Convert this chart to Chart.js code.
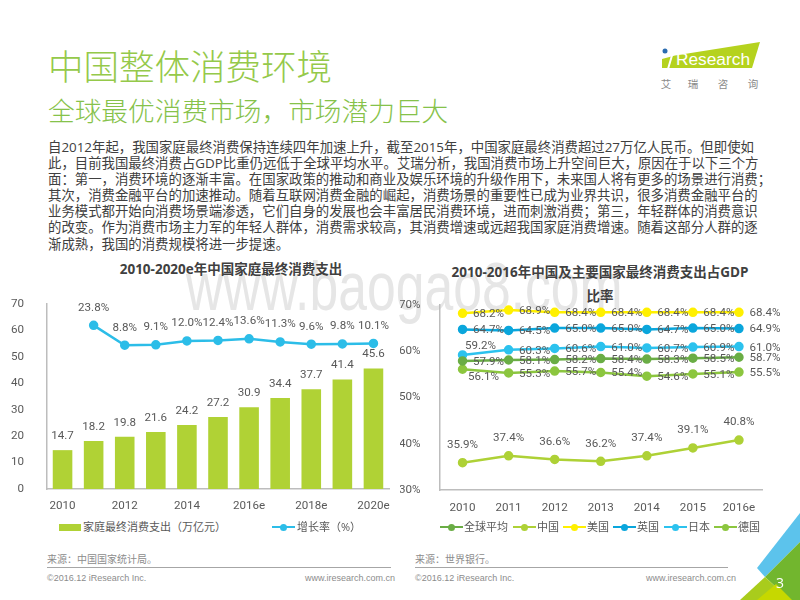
<!DOCTYPE html>
<html lang="zh-CN">
<head>
<meta charset="utf-8">
<title>中国整体消费环境</title>
<script src="https://cdn.jsdelivr.net/npm/chart.js@4"></script>
<style>
  html, body { margin: 0; padding: 0; background: #fff; }
  #page { position: relative; width: 800px; height: 600px; overflow: hidden; background: #fff;
          font-family: "Open Sans", "Noto Sans CJK SC", sans-serif; }
  #page > * { position: absolute; }
  #watermark { left: 186px; top: 247px; font: 68px "Liberation Sans", sans-serif; color: #e6e6e6; white-space: nowrap;
               transform-origin: left top; transform: scaleX(0.76); }
  #title { left: 48px; top: 41px; font-size: 35.5px; line-height: 50px; font-weight: 300; color: #95c94a; white-space: nowrap; }
  #subtitle { left: 48px; top: 92px; font-size: 26.7px; line-height: 38px; font-weight: 300; color: #86c24a; white-space: nowrap; }
  #body { left: 48px; top: 139px; font-size: 13.4px; line-height: 16.1px; color: #404040; white-space: pre; }
  canvas { position: absolute; }
  .chartTitle { font-size: 13.5px; font-weight: bold; color: #404040; white-space: nowrap; text-align: center;
                line-height: 24px; transform: translateX(-50%); }
  #leftWrap { left: 0; top: 282px; width: 400px; height: 237px; }
  #rightWrap { left: 400px; top: 287px; width: 400px; height: 233px; }
  .legend { position: absolute; font-size: 11px; color: #595959; white-space: nowrap; line-height: 14px; }
  .swatch { position: absolute; }
  .src { font-size: 10px; color: #8c8c8c; white-space: nowrap; }
  .rule { height: 1px; background: #a6a6a6; }
  .foot { font: 9px "Liberation Sans", sans-serif; color: #8c8c8c; white-space: nowrap; }
  #corner { left: 720px; top: 500px; }
  #logo { left: 655px; top: 38px; }
</style>
</head>
<body>
<div id="page">
  <div id="watermark">www.baogao8.com</div>
  <div id="title">中国整体消费环境</div>
  <div id="subtitle">全球最优消费市场，市场潜力巨大</div>
  <div id="body">自2012年起，我国家庭最终消费保持连续四年加速上升，截至2015年，中国家庭最终消费超过27万亿人民币。但即使如
此，目前我国最终消费占GDP比重仍远低于全球平均水平。艾瑞分析，我国消费市场上升空间巨大，原因在于以下三个方
面：第一，消费环境的逐渐丰富。在国家政策的推动和商业及娱乐环境的升级作用下，未来国人将有更多的场景进行消费；
其次，消费金融平台的加速推动。随着互联网消费金融的崛起，消费场景的重要性已成为业界共识，很多消费金融平台的
业务模式都开始向消费场景端渗透，它们自身的发展也会丰富居民消费环境，进而刺激消费；第三，年轻群体的消费意识
的改变。作为消费市场主力军的年轻人群体，消费需求较高，其消费增速或远超我国家庭消费增速。随着这部分人群的逐
渐成熟，我国的消费规模将进一步提速。</div>

  <svg id="logo" width="110" height="55" viewBox="0 0 110 55">
    <polygon points="7,30 7,21 20,17.5 105,4 97,30" fill="#b5d21e"/>
    <line x1="13" y1="31" x2="18" y2="14" stroke="#fff" stroke-width="2"/>
    <circle cx="10" cy="13" r="2.5" fill="#2b6cb0"/>
    <text x="21" y="27" font-family="Liberation Sans" font-size="16" fill="#fff" textLength="74" lengthAdjust="spacingAndGlyphs">Research</text>
    <g font-family="Noto Sans CJK SC" font-size="10.5" fill="#8a8a8a" text-anchor="middle">
      <text x="11" y="50">艾</text><text x="38" y="50">瑞</text><text x="68" y="50">咨</text><text x="98" y="50">询</text>
    </g>
  </svg>

  <div class="chartTitle" style="left:231px;top:257px">2010-2020e年中国家庭最终消费支出</div>
  <div class="chartTitle" style="left:600px;top:260px">2010-2016年中国及主要国家最终消费支出占GDP<br>比率</div>
  <div id="leftWrap"><canvas id="consumeChart"></canvas></div>
  <div id="rightWrap"><canvas id="gdpChart"></canvas></div>
  <div id="leftLegend"></div>
  <div id="rightLegend"></div>

  <div class="src" style="left:47px;top:551px">来源：中国国家统计局。</div>
  <div class="rule" style="left:47px;top:567px;width:344px"></div>
  <div class="foot" style="left:47px;top:573px">©2016.12 iResearch Inc.</div>
  <div class="foot" style="left:305px;top:573px">www.iresearch.com.cn</div>

  <div class="src" style="left:415px;top:551px">来源：世界银行。</div>
  <div class="rule" style="left:415px;top:567px;width:313px"></div>
  <div class="foot" style="left:415px;top:573px">©2016.12 iResearch Inc.</div>
  <div class="foot" style="left:646px;top:573px">www.iresearch.com.cn</div>

  <svg id="corner" width="80" height="100" viewBox="0 0 80 100">
    <polygon points="80,13 37,68 45,77 80,42" fill="#5cc3ec"/>
    <polygon points="80,42 45,77 70,100 80,100" fill="#72b62e"/>
    <polygon points="45,77 20,100 70,100" fill="#a9cc1c"/>
    <polygon points="37,100 56,84 72,100" fill="#c6d800"/>
    <text x="60" y="88" font-family="Open Sans" font-size="14" fill="#fff" text-anchor="middle">3</text>
  </svg>
</div>

<script>
// left chart
const spendYears = ["2010","2011","2012","2013","2014","2015","2016e","2017e","2018e","2019e","2020e"];
const spendValues = [14.7,18.2,19.8,21.6,24.2,27.2,30.9,34.4,37.7,41.4,45.6];
const growthValues = [null,23.8,8.8,9.1,12.0,12.4,13.6,11.3,9.6,9.8,10.1];
const spendTicks = [0,10,20,30,40,50,60,70];

// right chart
const gdpYears = ["2010","2011","2012","2013","2014","2015","2016e"];
const worldAvg = [57.9,58.1,58.2,58.4,58.3,58.5,58.7];
const china = [35.9,37.4,36.6,36.2,37.4,39.1,40.8];
const usa = [68.2,68.9,68.4,68.4,68.4,68.4,68.4];
const uk = [64.7,64.5,65.0,65.0,64.7,65.0,64.9];
const japan = [59.2,60.3,60.6,61.0,60.7,60.9,61.0];
const germany = [56.1,55.3,55.7,55.4,54.6,55.1,55.5];

const NUM_FONT = 'Roboto, "Noto Sans CJK SC", sans-serif';
const NUM_SIZE = 11.6;
const TEXT_COLOR = "#595959";
const AXIS_COLOR = "#bdbdbd";

// Chart.js has no data labels of its own, so draw them from the element positions
const valueLabels = {
    id: "valueLabels",
    afterDatasetsDraw(chart) {
        const ctx = chart.ctx;
        ctx.save();
        ctx.font = NUM_SIZE + "px " + NUM_FONT;
        ctx.fillStyle = TEXT_COLOR;
        ctx.textAlign = "center";
        ctx.textBaseline = "middle";
        chart.data.datasets.forEach((ds, d) => {
            const pts = chart.getDatasetMeta(d).data;
            ds.data.forEach((v, i) => {
                if (v === null) return;
                const shift = (ds.labelShift && ds.labelShift[i]) || [ds.labelDx || 0, ds.labelDy || 0];
                ctx.fillText(v.toFixed(1) + (ds.labelUnit || ""), pts[i].x + shift[0], pts[i].y + shift[1]);
            });
        });
        ctx.restore();
    }
};

function lineSet(label, data, color, extra) {
    return Object.assign({
        type: "line", label: label, data: data,
        borderColor: color, backgroundColor: color,
        borderWidth: 2.5, pointRadius: 3.5, pointHoverRadius: 3.5,
        tension: 0, labelUnit: "%"
    }, extra);
}

function axisX(padding, skipOdd) {
    return {
        offset: true,
        grid: { display: false },
        border: { color: AXIS_COLOR, width: 1.5 },
        ticks: {
            autoSkip: false, maxRotation: 0, padding: padding, color: TEXT_COLOR, font: { size: NUM_SIZE, family: NUM_FONT },
            callback: function (v, i) {
                return skipOdd && i % 2 ? "" : this.getLabelForValue(v);
            }
        },
        afterFit: s => { s.height = 26; }
    };
}

new Chart(document.getElementById("consumeChart"), {
    data: {
        labels: spendYears,
        datasets: [
            lineSet("增长率（%）", growthValues, "#2cbde8", { yAxisID: "y1", labelDy: -17.5, order: 0 }),
            {
                type: "bar", label: "家庭最终消费支出（万亿元）", data: spendValues, yAxisID: "y",
                backgroundColor: "#b0d235", categoryPercentage: 1, barPercentage: 0.63,
                labelDy: -14, order: 1
            }
        ]
    },
    plugins: [valueLabels],
    options: {
        responsive: true, maintainAspectRatio: false, animation: false,
        layout: { padding: { top: 10, right: 11, bottom: 4 } },
        plugins: { legend: { display: false }, tooltip: { enabled: false } },
        scales: {
            x: axisX(2, true),
            y: {
                min: 0, max: 70,
                afterBuildTicks: s => { s.ticks = spendTicks.map(v => ({ value: v })); },
                grid: { display: false },
                border: { color: AXIS_COLOR, width: 1.5 },
                ticks: { padding: 15, color: TEXT_COLOR, font: { size: NUM_SIZE, family: NUM_FONT } },
                afterFit: s => { s.width = 47; }
            },
            y1: { display: false, min: -100, max: 40 }
        }
    }
});

new Chart(document.getElementById("gdpChart"), {
    data: {
        labels: gdpYears,
        datasets: [
            lineSet("全球平均", worldAvg, "#6aad45", { labelDx: 26, labelDy: 1 }),
            lineSet("中国", china, "#aed136", { labelDy: -17.5 }),
            lineSet("美国", usa, "#fff000", { labelDx: 26, labelDy: 1 }),
            lineSet("英国", uk, "#0aa6dc", { labelDx: 26, labelDy: 1 }),
            lineSet("日本", japan, "#2cc2ee", { labelDx: 26, labelDy: 1, labelShift: { 0: [18, -9] } }),
            lineSet("德国", germany, "#8cc63f", { labelDx: 26, labelDy: 1, labelShift: { 0: [21, 8] } })
        ]
    },
    plugins: [valueLabels],
    options: {
        responsive: true, maintainAspectRatio: false, animation: false,
        layout: { padding: { top: 10, right: 38, bottom: 4 } },
        plugins: { legend: { display: false }, tooltip: { enabled: false } },
        scales: {
            x: axisX(3, false),
            y: {
                min: 30, max: 70,
                grid: { display: false },
                border: { color: AXIS_COLOR, width: 1.5 },
                ticks: { stepSize: 10, padding: 11, color: TEXT_COLOR, font: { size: NUM_SIZE, family: NUM_FONT },
                         callback: v => v + "%" },
                afterFit: s => { s.width = 39.5; }
            }
        }
    }
});

// html legends, the built-in one cannot space its items like the original
function addLegendItem(box, item) {
    const row = 520;
    const text = document.createElement("div");
    text.className = "legend";
    text.textContent = item.label;
    text.style.left = item.textX + "px";
    text.style.top = row + "px";
    box.appendChild(text);

    const mid = row + 7;
    const sw = document.createElement("div");
    sw.className = "swatch";
    if (item.bar) {
        sw.style.cssText = `left:${item.x}px;top:${mid - 3.5}px;width:22px;height:7px;background:${item.color}`;
        box.appendChild(sw);
        return;
    }
    sw.style.cssText = `left:${item.x}px;top:${mid - 1.25}px;width:23px;height:2.5px;background:${item.color}`;
    box.appendChild(sw);
    const dot = document.createElement("div");
    dot.className = "swatch";
    dot.style.cssText = `left:${item.x + 8}px;top:${mid - 3.5}px;width:7px;height:7px;border-radius:50%;background:${item.color}`;
    box.appendChild(dot);
}

const leftLegendItems = [
    { label: "家庭最终消费支出（万亿元）", color: "#b0d235", bar: true, x: 59, textX: 83 },
    { label: "增长率（%）", color: "#2cbde8", x: 272, textX: 297 }
];
const rightLegendItems = [
    { label: "全球平均", color: "#6aad45", x: 440, textX: 464 },
    { label: "中国", color: "#aed136", x: 513, textX: 537 },
    { label: "美国", color: "#fff000", x: 563, textX: 587 },
    { label: "英国", color: "#0aa6dc", x: 613, textX: 637 },
    { label: "日本", color: "#2cc2ee", x: 664, textX: 688 },
    { label: "德国", color: "#8cc63f", x: 714, textX: 738 }
];
leftLegendItems.forEach(i => addLegendItem(document.getElementById("leftLegend"), i));
rightLegendItems.forEach(i => addLegendItem(document.getElementById("rightLegend"), i));
</script>
</body>
</html>
